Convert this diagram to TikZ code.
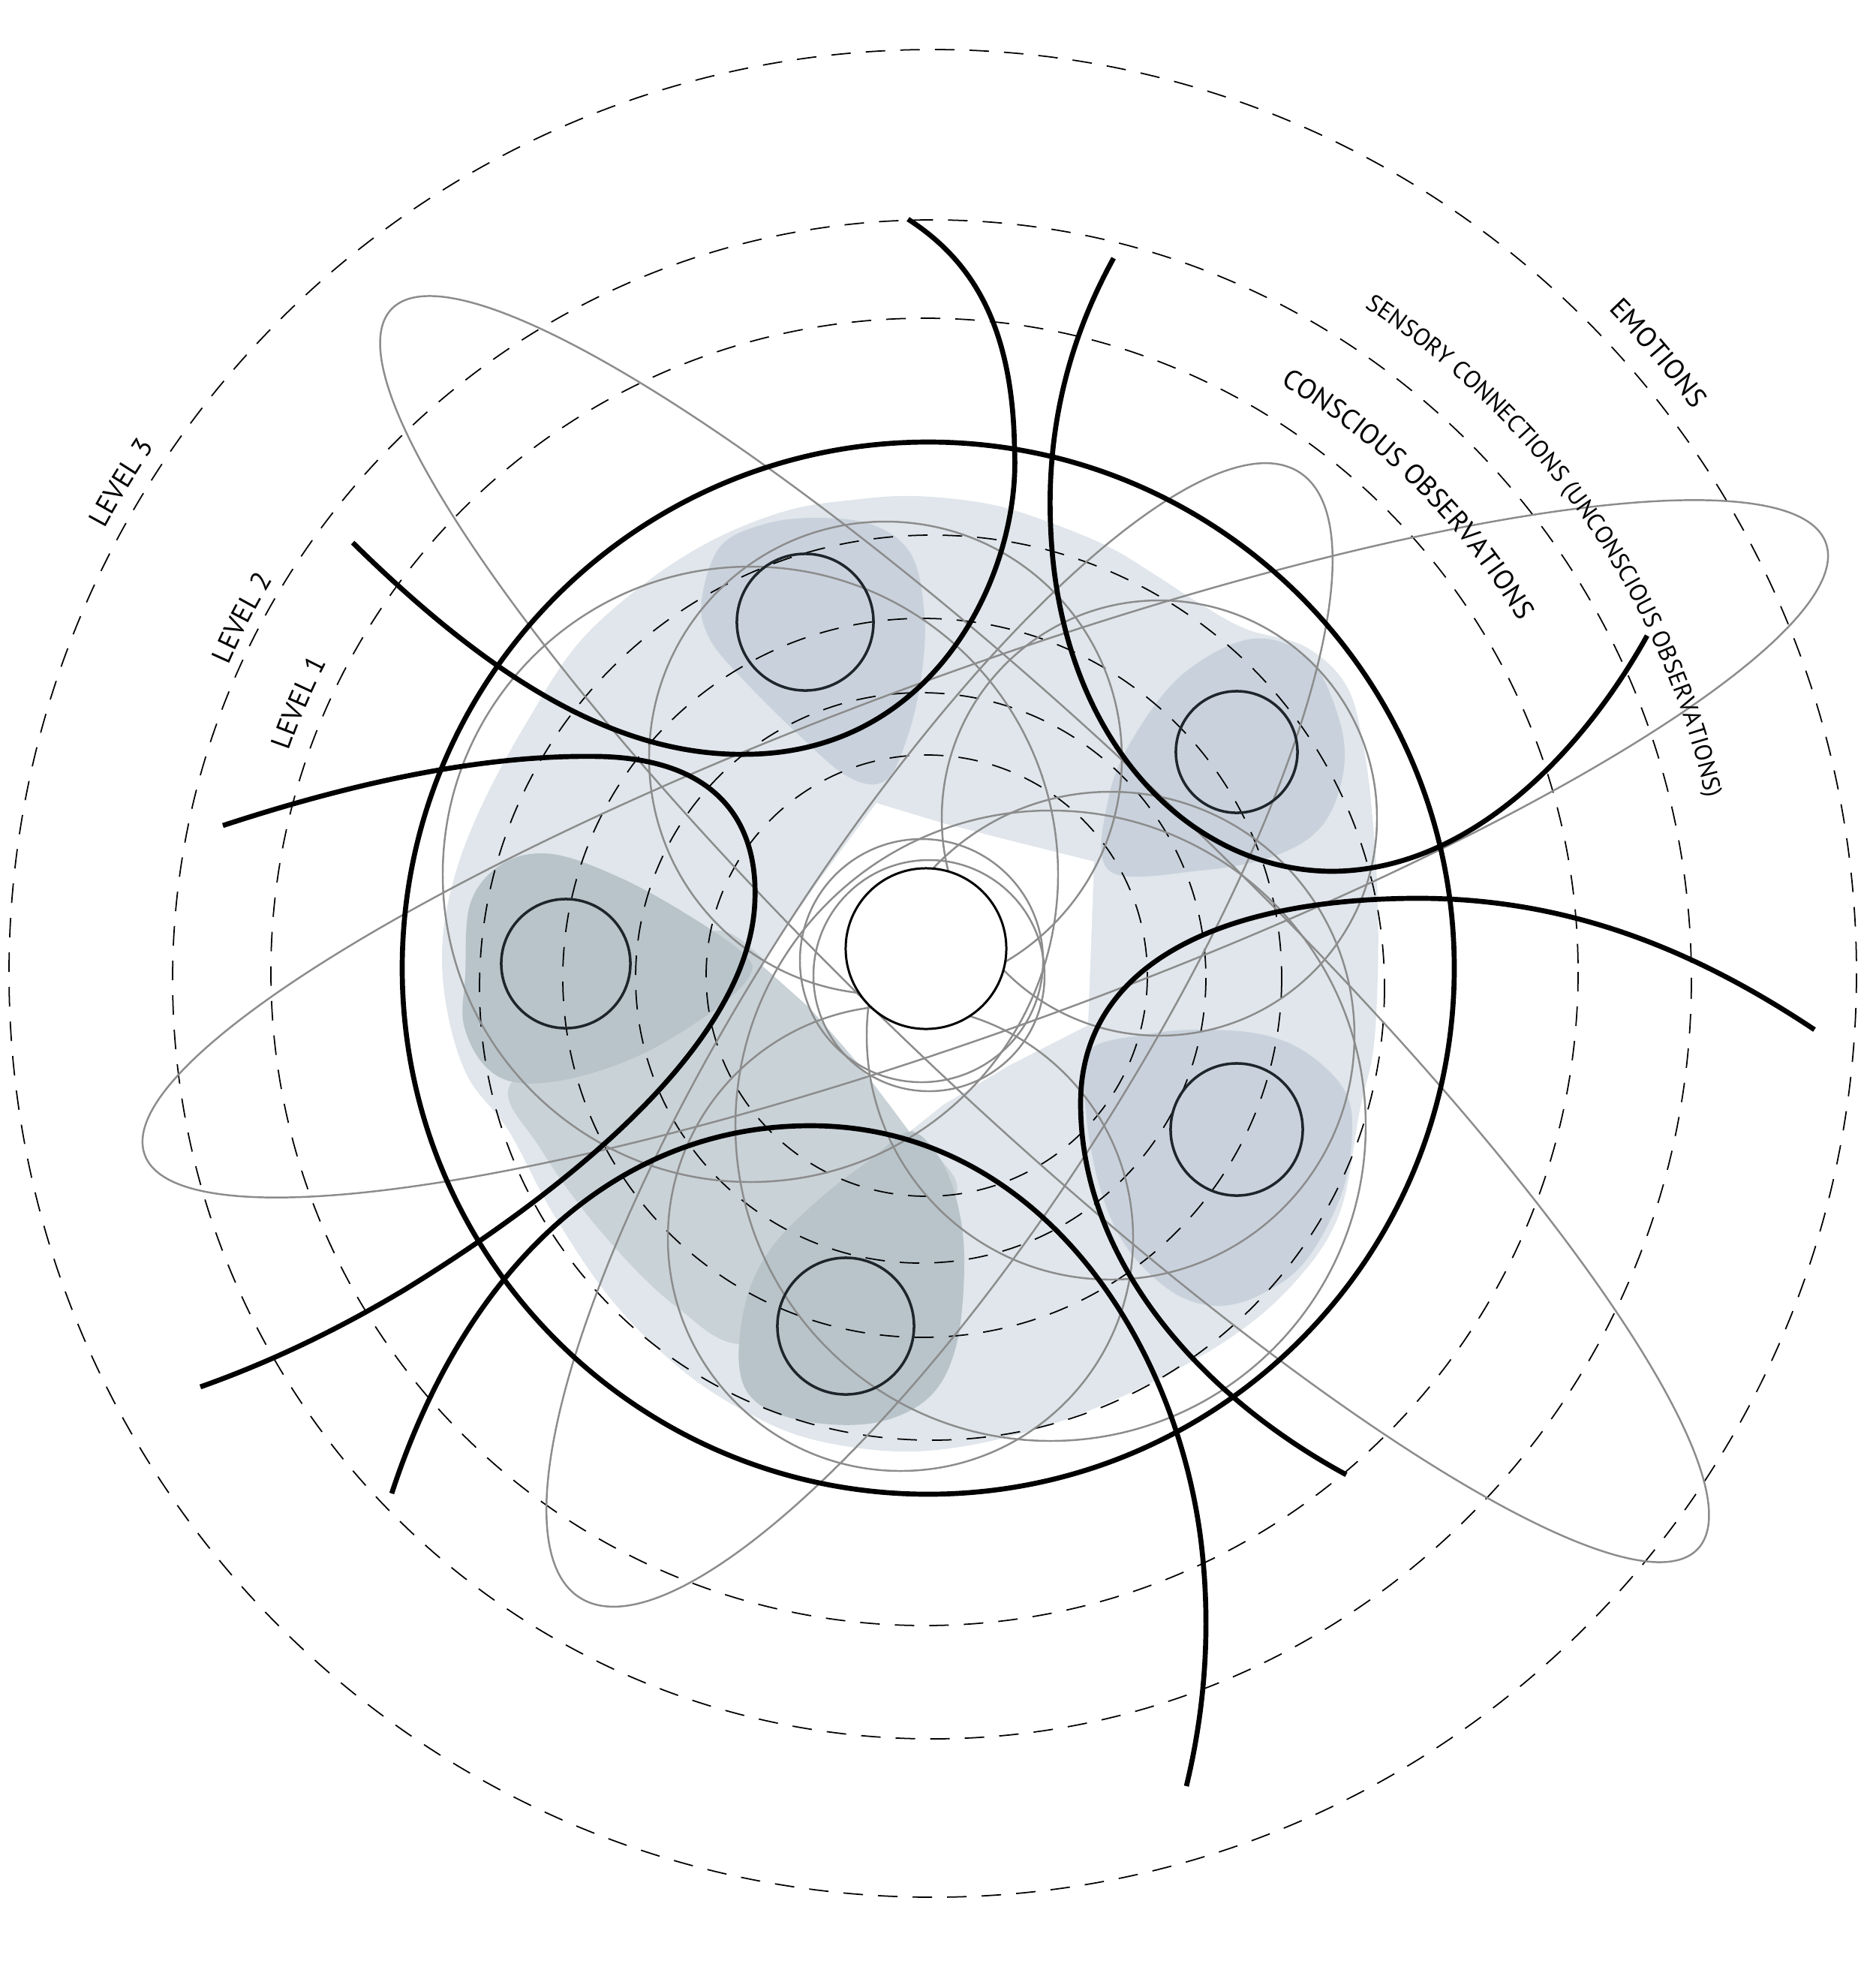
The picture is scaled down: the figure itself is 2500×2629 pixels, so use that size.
\documentclass[tikz,border=0pt]{standalone}
\usepackage{fontspec}
\setmainfont{PT Sans}
\usetikzlibrary{calc,decorations.text}
\definecolor{paleblue}{HTML}{E0E6EB}
\definecolor{midblue}{HTML}{C9D2DC}
\definecolor{bandgrey}{HTML}{C9D2D7}
\definecolor{deepgrey}{HTML}{B8C4CA}
\definecolor{inkline}{HTML}{1E252B}
\newcommand\lblfont{\fontsize{10.5}{12}\selectfont}
\newcommand\smallfont{\fontsize{9.2}{11}\selectfont}
\tikzset{
  levelring/.style={dash pattern=on 7.4pt off 5.7pt, line width=0.5pt},
  orbit/.style={black!45, line width=0.7pt},
  hook/.style={line width=1.9pt},
  pod/.style={draw=inkline, line width=1pt, circle, minimum size=#1, inner sep=0pt},
  arclabel/.style={decorate, decoration={text along path, text={#1}, text align=left}}
}
\begin{document}
\begin{tikzpicture}[x=0.01cm, y=-0.01cm]
  \useasboundingbox (0,0) rectangle (2500,2629);
  \coordinate (tc) at (1240,1297);

  % shaded petals
  \fill[paleblue] plot[smooth cycle, tension=0.6] coordinates {(1137,666) (1220,661) (1320,672) (1404,698) (1480,730) (1541,767) (1600,805) (1660,838) (1740,862) (1795,915) (1818,1000) (1830,1100) (1836,1200) (1836,1300) (1830,1400) (1812,1480) (1785,1617) (1725,1709) (1633,1787) (1495,1861) (1358,1911) (1220,1934) (1091,1920) (999,1884) (907,1824) (815,1732) (737,1617) (678,1507) (623,1434) (595,1342) (590,1250) (609,1157) (646,1065) (701,964) (770,858) (861,776) (953,718) (1050,680)};
  \fill[bandgrey] plot[smooth cycle, tension=0.6] coordinates {(960,1240) (1040,1300) (1120,1390) (1200,1490) (1250,1540) (1270,1600) (1150,1700) (1000,1790) (900,1740) (800,1640) (720,1530) (680,1445) (800,1380) (900,1290)};
  \fill[midblue] plot[smooth cycle, tension=0.6] coordinates {(935,800) (960,728) (1020,698) (1091,690) (1165,700) (1215,740) (1232,820) (1228,900) (1210,980) (1180,1040) (1130,1035) (1060,975) (985,900) (945,850)};
  \fill[midblue] plot[smooth cycle, tension=0.6] coordinates {(1478,1160) (1478,1060) (1515,975) (1580,895) (1670,851) (1745,878) (1785,960) (1790,1030) (1762,1100) (1700,1140) (1600,1160)};
  \fill[midblue] plot[smooth cycle, tension=0.6] coordinates {(1450,1401) (1530,1378) (1600,1372) (1680,1378) (1740,1402) (1790,1450) (1802,1505) (1788,1590) (1740,1680) (1680,1725) (1620,1740) (1560,1720) (1500,1660) (1465,1580) (1447,1480)};
  \fill[deepgrey] plot[smooth cycle, tension=0.6] coordinates {(985,1820) (995,1730) (1030,1660) (1095,1595) (1160,1545) (1212,1508) (1250,1540) (1275,1600) (1285,1680) (1275,1790) (1240,1860) (1170,1895) (1080,1895) (1010,1870)};
  \fill[deepgrey] plot[smooth cycle, tension=0.6] coordinates {(620,1300) (627,1203) (671,1150) (736,1138) (823,1168) (910,1215) (990,1270) (999,1300) (953,1345) (861,1402) (770,1435) (692,1443) (646,1420) (618,1365)};
  \fill[white] (1014,1285) -- (1090,1175) -- (1168,1070) -- (1257,1097) -- (1346,1120) -- (1458,1148) -- (1450,1366) -- (1346,1419) -- (1257,1472) -- (1212,1508) -- (1146,1419) -- (1079,1343) -- cycle;

  % level rings
  \draw[levelring] (1243,1297) circle[radius=1231];
  \draw[levelring] (1242,1305) circle[radius=1012];
  \draw[levelring] (1232,1295) circle[radius=871];
  \draw[levelring] (1242,1316) circle[radius=603];
  \draw[levelring] (1229,1303) circle[radius=479];
  \draw[levelring] (1227,1303) circle[radius=380];
  \draw[levelring] (1235,1300) circle[radius=294];

  % orbits
  \draw[orbit] (1228,1280) circle[radius=162];
  \draw[orbit] (1238,1300) circle[radius=154];
  \draw[orbit] (1180,1010) circle[radius=315];
  \draw[orbit] (1000,1165) circle[radius=410];
  \draw[orbit] (1480,1380) circle[radius=325];
  \draw[orbit] (1545,1090) circle[radius=290];
  \draw[orbit] (1400,1500) circle[radius=420];
  \draw[orbit] (1200,1650) circle[radius=310];
  \draw[orbit, rotate around={-43.5:(1392,1238)}] (1392,1238) ellipse[x radius=1200, y radius=235];
  \draw[orbit, rotate around={20:(1313,1131)}] (1313,1131) ellipse[x radius=1192, y radius=237];
  \draw[orbit, rotate around={57.4:(1252,1379)}] (1252,1379) ellipse[x radius=890, y radius=250];

  % main ring and hooks
  \draw[hook] (1237,1290) circle[radius=701];
  \draw[hook] (470,723) .. controls (650,900) and (820,1010) .. (1000,1005)
              .. controls (1250,1000) and (1360,760) .. (1352,600)
              .. controls (1350,440) and (1300,350) .. (1210,292);
  \draw[hook] (1484,344) .. controls (1420,460) and (1395,580) .. (1400,700)
              .. controls (1410,980) and (1580,1160) .. (1775,1161)
              .. controls (1960,1160) and (2110,1000) .. (2195,847);
  \draw[hook] (2418,1372) .. controls (2250,1260) and (2080,1195) .. (1880,1197)
              .. controls (1600,1200) and (1440,1300) .. (1440,1470)
              .. controls (1440,1680) and (1600,1860) .. (1794,1965);
  \draw[hook] (522,1990) .. controls (620,1690) and (820,1500) .. (1080,1500)
              .. controls (1380,1500) and (1565,1780) .. (1600,2050)
              .. controls (1615,2170) and (1605,2280) .. (1581,2380);
  \draw[hook] (297,1100) .. controls (480,1040) and (650,1005) .. (800,1008)
              .. controls (960,1012) and (1010,1100) .. (1006,1200)
              .. controls (1000,1380) and (780,1570) .. (540,1718)
              .. controls (450,1772) and (360,1815) .. (267,1848);

  % pods and core
  \node[pod=1.82cm] (c1) at (1073,829) {};
  \node[pod=1.62cm] (c2) at (1648,1002) {};
  \node[pod=1.76cm] (c3) at (1648,1505) {};
  \node[pod=1.82cm] (c4) at (1127,1767) {};
  \node[pod=1.72cm] (c5) at (754,1284) {};
  \node[draw, circle, fill=white, line width=0.85pt, minimum size=2.14cm, inner sep=0pt] (core) at (1234,1264) {};

  % labels
  \path[arclabel={|\lblfont|EMOTIONS}] ($(tc)+(-44.4:1264)$) arc[start angle=-44.4, end angle=-25, radius=1264];
  \path[arclabel={|\smallfont|SENSORY CONNECTIONS (UNCONSCIOUS OBSERVATIONS)}] ($(tc)+(-56.9:1060)$) arc[start angle=-56.9, end angle=5, radius=1060];
  \path[arclabel={|\lblfont|CONSCIOUS OBSERVATIONS}] ($(tc)+(-59.3:914)$) arc[start angle=-59.3, end angle=-20, radius=914];
  \path[arclabel={|\lblfont|LEVEL 3}] ($(tc)+(-151.7:1250)$) arc[start angle=-151.7, end angle=-135, radius=1250];
  \path[arclabel={|\lblfont|LEVEL 2}] ($(tc)+(-156.3:1022)$) arc[start angle=-156.3, end angle=-138, radius=1022];
  \path[arclabel={|\lblfont|LEVEL 1}] ($(tc)+(-160.9:905)$) arc[start angle=-160.9, end angle=-140, radius=905];
\end{tikzpicture}
\end{document}
